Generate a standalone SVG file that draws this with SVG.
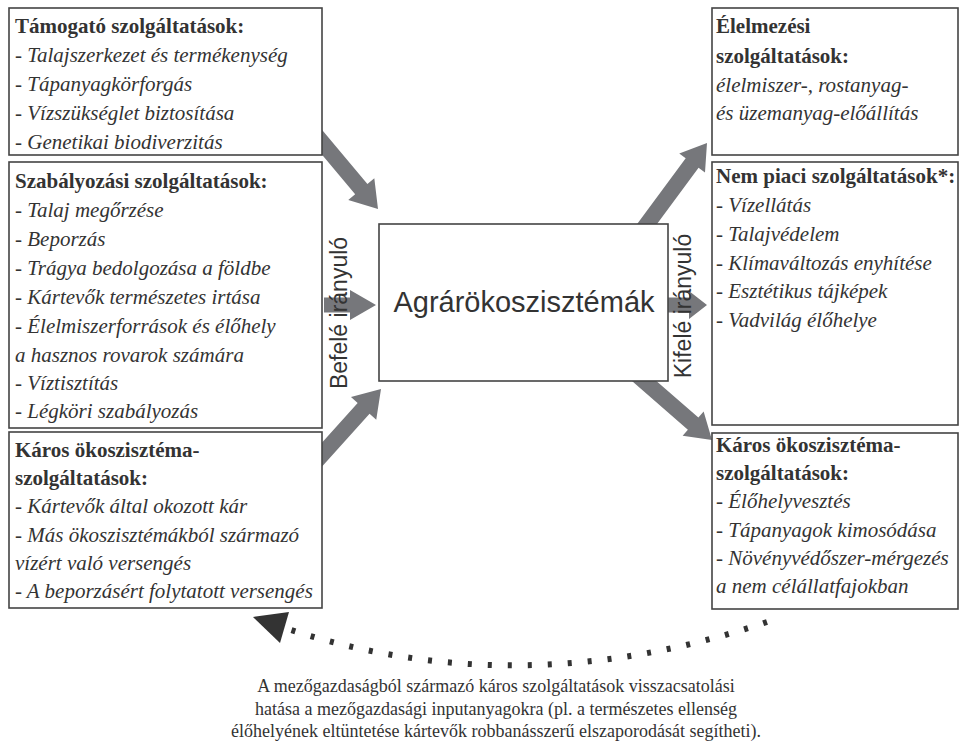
<svg xmlns="http://www.w3.org/2000/svg" width="961" height="742" viewBox="0 0 961 742">
<style>
.box{fill:#fff;stroke:#444;stroke-width:1.6}
.h{font-family:"Liberation Serif",serif;font-weight:bold;font-size:21px;fill:#333}
.i{font-family:"Liberation Serif",serif;font-style:italic;font-size:21px;fill:#333}
.s{font-family:"Liberation Sans",sans-serif;fill:#333}
.arr{fill:#76777b}
.cap{font-family:"Liberation Serif",serif;font-size:18px;fill:#333;text-anchor:middle}
</style>
<g id="connectors">
<polygon class="arr" transform="translate(378,209) rotate(50)" points="-130,-8 -26,-8 -26,-17 0,0 -26,17 -26,8 -130,8"/>
<polygon class="arr" transform="translate(376,305) rotate(0)" points="-52,-7.5 -26,-7.5 -26,-15 0,0 -26,15 -26,7.5 -52,7.5"/>
<polygon class="arr" transform="translate(381,389) rotate(-48)" points="-140,-8 -26,-8 -26,-17 0,0 -26,17 -26,8 -140,8"/>
<polygon class="arr" transform="translate(707,143) rotate(-53.5)" points="-120,-8 -25,-8 -25,-16 0,0 -25,16 -25,8 -120,8"/>
<polygon class="arr" transform="translate(707,305) rotate(0)" points="-45,-7.5 -18,-7.5 -18,-14 0,0 -18,14 -18,7.5 -45,7.5"/>
<polygon class="arr" transform="translate(712,440) rotate(41)" points="-120,-8 -25,-8 -25,-16 0,0 -25,16 -25,8 -120,8"/>
<path d="M767,622 Q520,705 288,629" fill="none" stroke="#333" stroke-width="6" stroke-dasharray="4 16"/>
<polygon points="253,617 289,612 280,643" fill="#333"/>
</g>
<g id="tamogato">
<rect class="box" x="9" y="8" width="313" height="147"/>
<text class="h" x="15" y="33">Támogató szolgáltatások:</text>
<text class="i" x="15" y="62">- Talajszerkezet és termékenység</text>
<text class="i" x="15" y="91">- Tápanyagkörforgás</text>
<text class="i" x="15" y="120">- Vízszükséglet biztosítása</text>
<text class="i" x="15" y="149">- Genetikai biodiverzitás</text>
</g>
<g id="szabalyozasi">
<rect class="box" x="9" y="162" width="313" height="266"/>
<text class="h" x="15" y="188">Szabályozási szolgáltatások:</text>
<text class="i" x="15" y="217">- Talaj megőrzése</text>
<text class="i" x="15" y="246">- Beporzás</text>
<text class="i" x="15" y="275">- Trágya bedolgozása a földbe</text>
<text class="i" x="15" y="304">- Kártevők természetes irtása</text>
<text class="i" x="15" y="333">- Élelmiszerforrások és élőhely</text>
<text class="i" x="15" y="362">a hasznos rovarok számára</text>
<text class="i" x="15" y="390">- Víztisztítás</text>
<text class="i" x="15" y="418">- Légköri szabályozás</text>
</g>
<g id="karos-be">
<rect class="box" x="9" y="432" width="313" height="176"/>
<text class="h" x="15" y="457">Káros ökoszisztéma-</text>
<text class="h" x="15" y="485">szolgáltatások:</text>
<text class="i" x="15" y="513">- Kártevők által okozott kár</text>
<text class="i" x="15" y="542">- Más ökoszisztémákból származó</text>
<text class="i" x="15" y="570">vízért való versengés</text>
<text class="i" x="15" y="598">- A beporzásért folytatott versengés</text>
</g>
<g id="agro">
<rect class="box" x="379" y="224" width="289" height="157"/>
<text class="s" x="524" y="312" font-size="29" text-anchor="middle">Agrárökoszisztémák</text>
</g>
<g id="elelmezesi">
<rect class="box" x="712" y="8" width="246" height="147"/>
<text class="h" x="716" y="33">Élelmezési</text>
<text class="h" x="716" y="63">szolgáltatások:</text>
<text class="i" x="716" y="92">élelmiszer-, rostanyag-</text>
<text class="i" x="716" y="120">és üzemanyag-előállítás</text>
</g>
<g id="nempiaci">
<rect class="box" x="712" y="162" width="246" height="263"/>
<text class="h" x="716" y="183">Nem piaci szolgáltatások*:</text>
<text class="i" x="716" y="212">- Vízellátás</text>
<text class="i" x="716" y="241">- Talajvédelem</text>
<text class="i" x="716" y="270">- Klímaváltozás enyhítése</text>
<text class="i" x="716" y="298">- Esztétikus tájképek</text>
<text class="i" x="716" y="327">- Vadvilág élőhelye</text>
</g>
<g id="karos-ki">
<rect class="box" x="712" y="433" width="246" height="176"/>
<text class="h" x="716" y="452">Káros ökoszisztéma-</text>
<text class="h" x="716" y="480">szolgáltatások:</text>
<text class="i" x="716" y="508">- Élőhelyvesztés</text>
<text class="i" x="716" y="537">- Tápanyagok kimosódása</text>
<text class="i" x="716" y="565">- Növényvédőszer-mérgezés</text>
<text class="i" x="716" y="593">a nem célállatfajokban</text>
</g>
<g id="labels">
<text class="s" font-size="23" text-anchor="middle" transform="translate(347,313) rotate(-90)">Befelé irányuló</text>
<text class="s" font-size="23" text-anchor="middle" transform="translate(691,306) rotate(-90)">Kifelé irányuló</text>
</g>
<g id="caption">
<text class="cap" x="496" y="692">A mezőgazdaságból származó káros szolgáltatások visszacsatolási</text>
<text class="cap" x="496" y="715">hatása a mezőgazdasági inputanyagokra (pl. a természetes ellenség</text>
<text class="cap" x="496" y="737">élőhelyének eltüntetése kártevők robbanásszerű elszaporodását segítheti).</text>
</g>
</svg>
